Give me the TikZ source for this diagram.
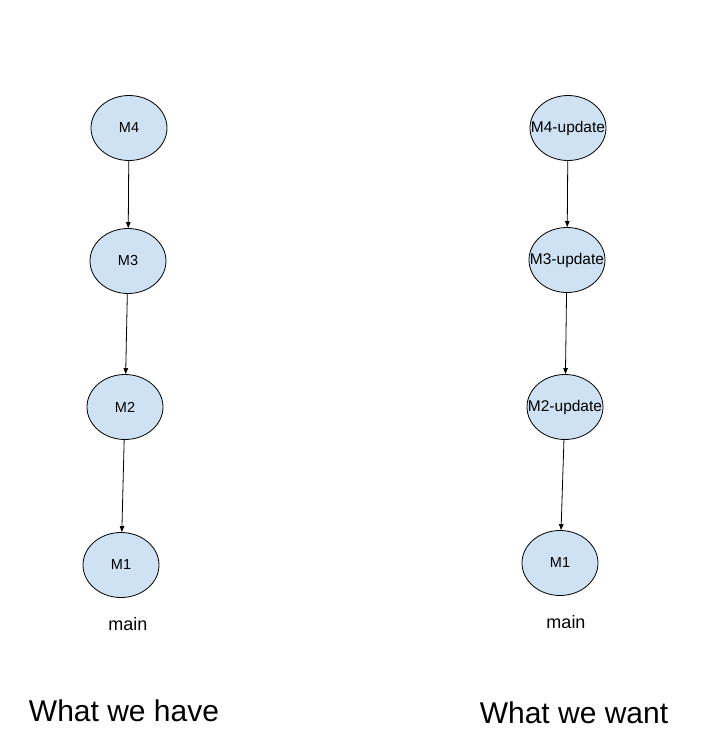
\documentclass[tikz,border=0pt]{standalone}
\usepackage{fontspec}
\setmainfont{Liberation Sans}
\usetikzlibrary{shapes.geometric,arrows.meta}
\definecolor{nodefill}{HTML}{CFE2F3}
\begin{document}
\begin{tikzpicture}[x=1pt,y=-1pt,
  commit/.style={ellipse,draw=black,line width=0.8pt,fill=nodefill,minimum width=76pt,minimum height=65pt,inner sep=0pt,font=\fontsize{14.5}{16}\selectfont},
  wide/.style={commit,inner xsep=-12pt,font=\fontsize{15.5}{18}\selectfont},
  link/.style={draw=black,line width=0.8pt,-{Triangle[length=6pt,width=4.5pt]}},
  lbl/.style={font=\fontsize{18}{21}\selectfont},
  title/.style={font=\fontsize{30}{34}\selectfont}]
\useasboundingbox (0,0) rectangle (706,750);
% left
\node[commit] (l4) at (129,128) {M4};
\node[commit] (l3) at (128,261) {M3};
\node[commit] (l2) at (125,407) {M2};
\node[commit] (l1) at (121,565) {M1};
\node[lbl] (lmain) at (128,624) {main};
\node[title] (lt) at (124,711) {What we have};
% right
\node[wide] (r4) at (568,128) {M4-update};
\node[wide] (r3) at (567,260) {M3-update};
\node[wide] (r2) at (565,407) {M2-update};
\node[commit] (r1) at (560,563) {M1};
\node[lbl] (rmain) at (566,622) {main};
\node[title] (rt) at (574,713) {What we want};
\draw[link] (l4) -- (l3);
\draw[link] (l3) -- (l2);
\draw[link] (l2) -- (l1);
\draw[link] (r4) -- (r3);
\draw[link] (r3) -- (r2);
\draw[link] (r2) -- (r1);
\end{tikzpicture}
\end{document}
